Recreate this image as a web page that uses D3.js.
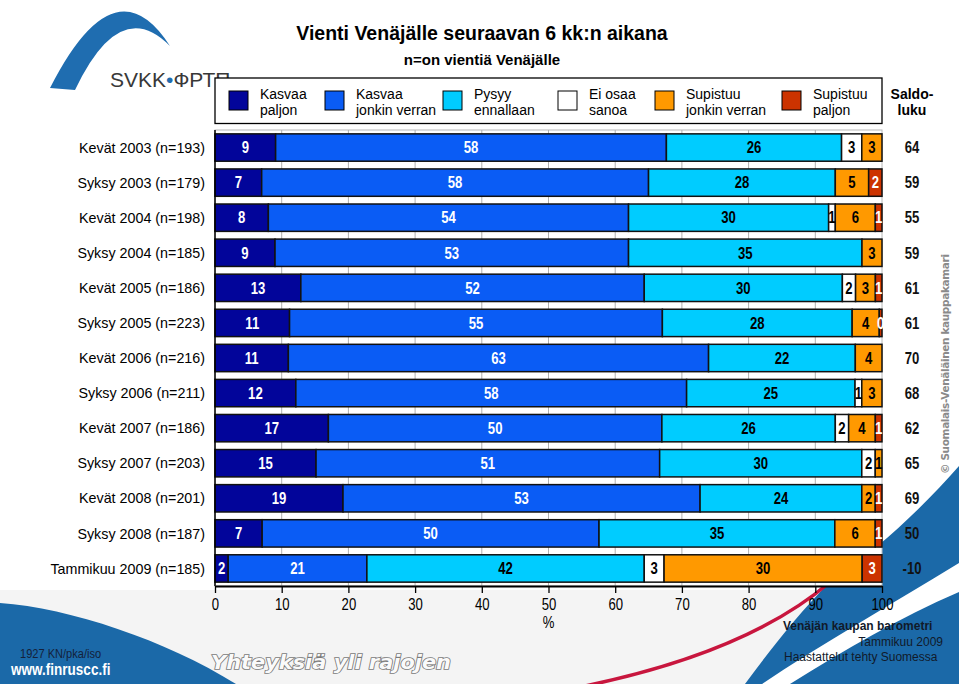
<!DOCTYPE html>
<html>
<head>
<meta charset="utf-8">
<script src="https://cdn.jsdelivr.net/npm/d3@7/dist/d3.min.js"></script>
<style>
  html, body { margin: 0; padding: 0; background: #ffffff; }
  svg { display: block; }
</style>
</head>
<body>
<script>
// ---------------- DATA ----------------
const categories = [
  "Kevät 2003 (n=193)", "Syksy 2003 (n=179)", "Kevät 2004 (n=198)", "Syksy 2004 (n=185)",
  "Kevät 2005 (n=186)", "Syksy 2005 (n=223)", "Kevät 2006 (n=216)", "Syksy 2006 (n=211)",
  "Kevät 2007 (n=186)", "Syksy 2007 (n=203)", "Kevät 2008 (n=201)", "Syksy 2008 (n=187)",
  "Tammikuu 2009 (n=185)"
];
const seriesNames = [
  ["Kasvaa", "paljon"], ["Kasvaa", "jonkin verran"], ["Pysyy", "ennallaan"],
  ["Ei osaa", "sanoa"], ["Supistuu", "jonkin verran"], ["Supistuu", "paljon"]
];
const kasvaaPaljon    = [9, 7, 8, 9, 13, 11, 11, 12, 17, 15, 19, 7, 2];
const kasvaaJonkin    = [58, 58, 54, 53, 52, 55, 63, 58, 50, 51, 53, 50, 21];
const pysyy           = [26, 28, 30, 35, 30, 28, 22, 25, 26, 30, 24, 35, 42];
const eiOsaa          = [3, 0, 1, 0, 2, 0, 0, 1, 2, 2, 0, 0, 3];
const supistuuJonkin  = [3, 5, 6, 3, 3, 4, 4, 3, 4, 1, 2, 6, 30];
const supistuuPaljon  = [0, 2, 1, 0, 1, 0.4, 0, 0, 1, 0, 1, 1, 3];
const saldo           = [64, 59, 55, 59, 61, 61, 70, 68, 62, 65, 69, 50, -10];
const xTicks          = [0, 10, 20, 30, 40, 50, 60, 70, 80, 90, 100];

// ---------------- STYLE ----------------
const colors = ["#02059a", "#0a5cf5", "#00ccff", "#ffffff", "#ff9900", "#cc3300"];
const labelColors = ["#ffffff", "#ffffff", "#000000", "#000000", "#000000", "#ffffff"];
const SANS = "'Liberation Sans',Arial,sans-serif";
const NX = 0.82; // horizontal squeeze to imitate a narrow face
const W = 959, H = 684;

const svg = d3.select("body").append("svg").attr("width", W).attr("height", H);

function narrow(sel, x, y) {
  return sel.attr("x", 0).attr("y", 0)
    .attr("transform", typeof x === "function"
      ? (d, i) => `translate(${x(d, i)},${y(d, i)}) scale(${NX},1)`
      : `translate(${x},${y}) scale(${NX},1)`);
}

// ---------------- BACKGROUND DECOR ----------------
svg.append("rect").attr("x", 0).attr("y", 590).attr("width", W).attr("height", 94).attr("fill", "#f4f4f4");
const blue = "#1b69a8";
svg.append("path")
  .attr("d", "M0,603 C70,608 165,640 236,684 L0,684 Z")
  .attr("fill", blue);
svg.append("path")
  .attr("d", "M959,466 C925,505 880,548 828,584 C800,612 770,650 745,684 L959,684 Z")
  .attr("fill", blue);
svg.append("path")
  .attr("d", "M959,563 C890,605 820,645 762,684 L790,684 C845,650 900,617 959,592 Z")
  .attr("fill", "#ffffff");
svg.append("path")
  .attr("d", "M830,582 C780,625 700,662 585,686")
  .attr("fill", "none").attr("stroke", "#c8163e").attr("stroke-width", 3.5);

// ---------------- LOGO ----------------
svg.append("path")
  .attr("d", "M50,88 Q115,-40 170,46 Q120,-5 75,90 Z")
  .attr("fill", "#1f6db0");
const logo = svg.append("text").attr("x", 110).attr("y", 87)
  .attr("font-family", SANS).attr("font-size", 21).attr("fill", "#383838");
logo.append("tspan").text("SVKK");
logo.append("tspan").attr("fill", "#1f6db0").text("•");
logo.append("tspan").text("ФРТП");

// ---------------- TITLES ----------------
svg.append("text").attr("x", 482).attr("y", 40).attr("text-anchor", "middle")
  .attr("font-family", SANS).attr("font-weight", "bold").attr("font-size", 19.5)
  .text("Vienti Venäjälle seuraavan 6 kk:n aikana");
svg.append("text").attr("x", 482).attr("y", 65).attr("text-anchor", "middle")
  .attr("font-family", SANS).attr("font-weight", "bold").attr("font-size", 15)
  .text("n=on vientiä Venäjälle");

// ---------------- SCALES ----------------
const x = d3.scaleLinear().domain([0, 100]).range([215, 882]);
const y = d3.scaleBand().domain(categories).range([130, 586]).paddingInner(0.22).paddingOuter(0.11);

// ---------------- LEGEND ----------------
svg.append("rect").attr("x", 215).attr("y", 78).attr("width", 667).attr("height", 45.5)
  .attr("fill", "#ffffff").attr("stroke", "#000").attr("stroke-width", 1.3);
const legendX = [229, 325, 443, 558, 655, 782];
seriesNames.forEach((nm, i) => {
  const g = svg.append("g").attr("transform", `translate(${legendX[i]},0)`);
  g.append("rect").attr("x", 0).attr("y", 91).attr("width", 19).attr("height", 19)
    .attr("fill", colors[i]).attr("stroke", "#000").attr("stroke-width", 1);
  const t = g.append("text").attr("font-family", SANS).attr("font-size", 14).attr("fill", "#000");
  t.append("tspan").attr("x", 31).attr("y", 98.5).text(nm[0]);
  t.append("tspan").attr("x", 31).attr("y", 115).text(nm[1]);
});
const sh = svg.append("text").attr("font-family", SANS).attr("font-weight", "bold")
  .attr("font-size", 14).attr("text-anchor", "middle");
sh.append("tspan").attr("x", 912).attr("y", 98.5).text("Saldo-");
sh.append("tspan").attr("x", 912).attr("y", 115).text("luku");

// ---------------- PLOT AREA ----------------
svg.append("rect").attr("x", 215).attr("y", 130).attr("width", 667).attr("height", 456)
  .attr("fill", "#ffffff").attr("stroke", "#b8b8b8").attr("stroke-width", 1);
svg.append("g").selectAll("line").data(xTicks.slice(1, -1)).join("line")
  .attr("x1", d => x(d)).attr("x2", d => x(d)).attr("y1", 130).attr("y2", 586)
  .attr("stroke", "#b0b0b0").attr("stroke-width", 1);

const table = categories.map((c, i) => {
  const o = { cat: c };
  [kasvaaPaljon, kasvaaJonkin, pysyy, eiOsaa, supistuuJonkin, supistuuPaljon]
    .forEach((s, k) => o["s" + k] = s[i]);
  return o;
});
const keys = ["s0", "s1", "s2", "s3", "s4", "s5"];
const stacked = d3.stack().keys(keys).offset(d3.stackOffsetExpand)(table);

stacked.forEach((layer, k) => {
  const segs = layer.filter(d => d.data[keys[k]] > 0);
  svg.append("g").selectAll("rect").data(segs).join("rect")
    .attr("x", d => x(d[0] * 100))
    .attr("y", d => y(d.data.cat))
    .attr("width", d => x(d[1] * 100) - x(d[0] * 100))
    .attr("height", y.bandwidth())
    .attr("fill", colors[k])
    .attr("stroke", "#111").attr("stroke-width", 1.5);
});
stacked.forEach((layer, k) => {
  const segs = layer.filter(d => d.data[keys[k]] > 0);
  const t = svg.append("g").selectAll("text").data(segs).join("text")
    .attr("dy", "0.36em")
    .attr("text-anchor", "middle")
    .attr("font-family", SANS).attr("font-weight", "bold").attr("font-size", 16)
    .attr("fill", labelColors[k])
    .text(d => Math.round(d.data[keys[k]]));
  narrow(t, d => x((d[0] + d[1]) / 2 * 100), d => y(d.data.cat) + y.bandwidth() / 2);
});

svg.append("g").selectAll("text").data(categories).join("text")
  .attr("x", 205).attr("y", d => y(d) + y.bandwidth() / 2).attr("dy", "0.36em")
  .attr("text-anchor", "end").attr("font-family", SANS).attr("font-size", 14.3)
  .text(d => d);

const st = svg.append("g").selectAll("text").data(saldo).join("text")
  .attr("dy", "0.36em")
  .attr("text-anchor", "middle").attr("font-family", SANS).attr("font-weight", "bold")
  .attr("font-size", 16).attr("fill", "#111").text(d => d);
narrow(st, () => 912, (d, i) => y(categories[i]) + y.bandwidth() / 2);

// x axis
const ax = svg.append("g").attr("transform", "translate(0,586)")
  .call(d3.axisBottom(x).tickValues(xTicks).tickSize(7).tickPadding(6).tickSizeOuter(0));
ax.select(".domain").attr("stroke", "#000").attr("stroke-width", 2);
ax.selectAll(".tick line").attr("stroke", "#000").attr("stroke-width", 1.3);
ax.selectAll(".tick text").attr("font-family", SANS).attr("font-size", 16).attr("fill", "#000")
  .attr("transform", `scale(${NX},1)`);
svg.append("line").attr("x1", 215).attr("x2", 215).attr("y1", 130).attr("y2", 586)
  .attr("stroke", "#000").attr("stroke-width", 1.5);
narrow(svg.append("text").attr("text-anchor", "middle")
  .attr("font-family", SANS).attr("font-size", 16).text("%"), x(50), 628);

// ---------------- FOOTER TEXTS ----------------
svg.append("text").attr("x", 783).attr("y", 630).attr("font-family", SANS)
  .attr("font-weight", "bold").attr("font-size", 12).attr("fill", "#111a2a")
  .text("Venäjän kaupan barometri");
svg.append("text").attr("x", 943).attr("y", 646).attr("text-anchor", "end").attr("font-family", SANS)
  .attr("font-size", 12).attr("fill", "#111a2a").text("Tammikuu 2009");
svg.append("text").attr("x", 784).attr("y", 661).attr("font-family", SANS)
  .attr("font-size", 12).attr("fill", "#111a2a").text("Haastattelut tehty Suomessa");

narrow(svg.append("text").attr("font-family", SANS)
  .attr("font-size", 13.5).attr("fill", "#14213a").text("1927 KN/pka/iso"), 20, 658);
narrow(svg.append("text").attr("font-family", SANS)
  .attr("font-weight", "bold").attr("font-size", 16.5).attr("fill", "#ffffff").text("www.finruscc.fi"), 11, 675);
svg.append("text").attr("x", 211).attr("y", 669).attr("font-family", "'DejaVu Sans',sans-serif")
  .attr("font-weight", "bold").attr("font-style", "italic").attr("font-size", 19)
  .attr("textLength", 240).attr("lengthAdjust", "spacingAndGlyphs")
  .attr("fill", "#fafafa").attr("stroke", "#7a7a7a").attr("stroke-width", 1.6)
  .attr("paint-order", "stroke").text("Yhteyksiä yli rajojen");

svg.append("text").attr("transform", "translate(949,364) rotate(-90)").attr("text-anchor", "middle")
  .attr("font-family", "'DejaVu Sans',sans-serif").attr("font-weight", "bold").attr("font-size", 10.5)
  .attr("fill", "#8a8a8a").attr("textLength", 220).text("© Suomalais-Venäläinen kauppakamari");
</script>
</body>
</html>
